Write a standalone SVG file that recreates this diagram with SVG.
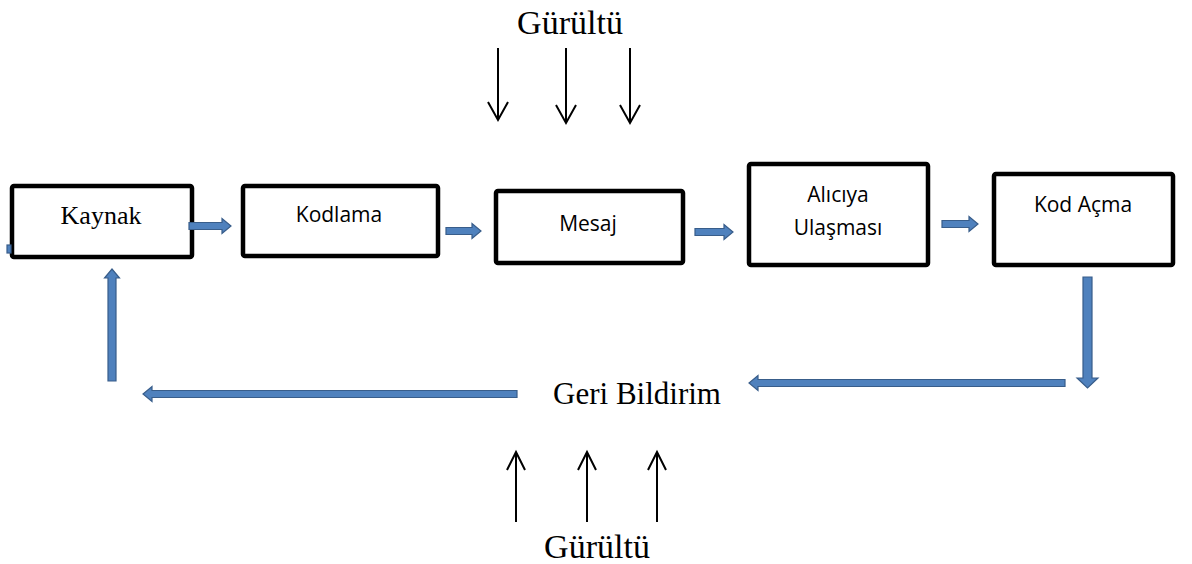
<svg xmlns="http://www.w3.org/2000/svg" width="1192" height="564" viewBox="0 0 1192 564">
<defs>
<style>
.box{fill:#fff;stroke:#000;stroke-width:4.5}
.serif{font-family:"Liberation Serif","Times New Roman",serif;fill:#000}
.sans{font-family:"Open Sans","Noto Sans",sans-serif;font-size:21px;fill:#000;text-anchor:middle}
.blk{fill:#4f81bd;stroke:#385d8a;stroke-width:1.2}
.ln{fill:none;stroke:#000;stroke-width:2}
</style>
</defs>
<rect width="1192" height="564" fill="#fff"/>
<g id="noise-top">
<text class="serif" x="570" y="34" font-size="34" text-anchor="middle">Gürültü</text>
</g>
<g id="node-kaynak">
<rect class="box" x="12" y="186" width="180" height="71" rx="2"/>
<text class="serif" x="101" y="224" font-size="26" text-anchor="middle">Kaynak</text>
</g>
<g id="node-kodlama">
<rect class="box" x="243" y="186" width="195" height="70" rx="2"/>
<text class="sans" x="339" y="222">Kodlama</text>
</g>
<g id="node-mesaj">
<rect class="box" x="496" y="191" width="187" height="72" rx="2"/>
<text class="sans" x="588" y="231">Mesaj</text>
</g>
<g id="node-alici">
<rect class="box" x="749" y="164" width="179" height="101" rx="2"/>
<text class="sans" x="838" y="202">Alıcıya</text>
<text class="sans" x="838" y="235">Ulaşması</text>
</g>
<g id="node-kodacma">
<rect class="box" x="994" y="174" width="179" height="91" rx="2"/>
<text class="sans" x="1083" y="212">Kod Açma</text>
</g>
<g id="node-geribildirim">
<text class="serif" x="637" y="404" font-size="31" text-anchor="middle">Geri Bildirim</text>
</g>
<g id="noise-bottom">
<text class="serif" x="597" y="558" font-size="34" text-anchor="middle">Gürültü</text>
</g>
<g id="connectors">
<rect class="blk" x="7" y="245" width="4" height="8"/>
<path class="blk" d="M189,222.5 H222 V218.5 L231,226 L222,233.5 V229.5 H189 Z"/>
<path class="blk" d="M446,227.5 H472 V223.5 L481,231 L472,238.5 V234.5 H446 Z"/>
<path class="blk" d="M695,228.5 H724 V224.5 L733,232 L724,239.5 V235.5 H695 Z"/>
<path class="blk" d="M942,220.5 H969 V216.5 L978,224 L969,231.5 V227.5 H942 Z"/>
<path class="blk" d="M1083,277 H1092 V378 H1098 L1087.5,388 L1077,378 H1083 Z"/>
<path class="blk" d="M1065,379.5 V386.5 H758 V390.5 L749,383 L758,375.5 V379.5 Z"/>
<path class="blk" d="M517,390.5 V397.5 H152 V401.5 L143,394 L152,386.5 V390.5 Z"/>
<path class="blk" d="M108,381 V278 H104.5 L112,269 L119.5,278 H116 V381 Z"/>
<line class="ln" x1="498" y1="48" x2="498" y2="120"/>
<polyline class="ln" points="488,102 498,120 508,102"/>
<line class="ln" x1="566" y1="48" x2="566" y2="123"/>
<polyline class="ln" points="556,105 566,123 576,105"/>
<line class="ln" x1="630" y1="48" x2="630" y2="123"/>
<polyline class="ln" points="620,105 630,123 640,105"/>
<line class="ln" x1="516" y1="522" x2="516" y2="452"/>
<polyline class="ln" points="507,470 516,452 525,470"/>
<line class="ln" x1="587" y1="522" x2="587" y2="452"/>
<polyline class="ln" points="578,470 587,452 596,470"/>
<line class="ln" x1="657" y1="522" x2="657" y2="452"/>
<polyline class="ln" points="648,470 657,452 666,470"/>
</g>
</svg>
